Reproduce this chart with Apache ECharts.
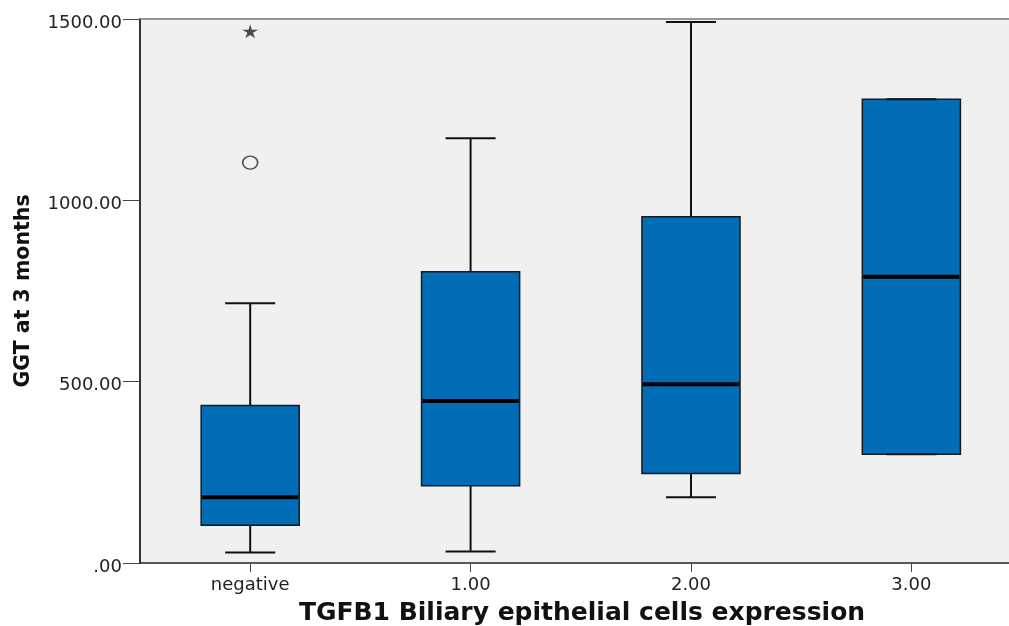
<!DOCTYPE html>
<html><head><meta charset="utf-8">
<script src="https://cdn.jsdelivr.net/npm/echarts@6/dist/echarts.min.js"></script>
<style>html,body{margin:0;padding:0;background:#fff}#c{width:1009px;height:626px}</style>
</head><body><div id="c"></div>
<script>
const categories = ['negative', '1.00', '2.00', '3.00'];
const categoryPositions = [0, 1, 2, 3];
const lowWhisker = [29, 32, 181, 300];
const q1 = [104, 213, 247, 300];
const median = [181, 447, 493, 789];
const q3 = [434, 803, 955, 1279];
const highWhisker = [716, 1171, 1492, 1279];
const mildOutliers = [[0, 1104]];
const extremeOutliers = [[0, 1466]];
const yMin = 0, yMax = 1500, yStep = 500;
const xMin = -0.5, xMax = 3.443;

const boxData = categories.map((c, i) => [i, lowWhisker[i], q1[i], median[i], q3[i], highWhisker[i]]);

function renderBox(params, api) {
  const idx = api.value(0);
  const band = api.size([1, 0])[0];
  const bw = band * 0.445, cw = band * 0.227;
  const pl = api.coord([idx, api.value(1)]);
  const p1 = api.coord([idx, api.value(2)]);
  const pm = api.coord([idx, api.value(3)]);
  const p3 = api.coord([idx, api.value(4)]);
  const ph = api.coord([idx, api.value(5)]);
  const x = pl[0];
  const stroke = { stroke: '#111', lineWidth: 2, fill: null };
  return {
    type: 'group',
    children: [
      { type: 'line', shape: { x1: x, y1: pl[1], x2: x, y2: p1[1] }, style: stroke },
      { type: 'line', shape: { x1: x, y1: p3[1], x2: x, y2: ph[1] }, style: stroke },
      { type: 'rect', shape: { x: x - bw / 2, y: p3[1], width: bw, height: p1[1] - p3[1] },
        style: { fill: '#006db6', stroke: '#1a1a1a', lineWidth: 1.5 } },
      { type: 'line', shape: { x1: x - cw / 2, y1: pl[1], x2: x + cw / 2, y2: pl[1] }, style: stroke },
      { type: 'line', shape: { x1: x - cw / 2, y1: ph[1], x2: x + cw / 2, y2: ph[1] }, style: stroke },
      { type: 'line', shape: { x1: x - bw / 2 + 1, y1: pm[1], x2: x + bw / 2 - 1, y2: pm[1] },
        style: { stroke: '#000', lineWidth: 4 } }
    ]
  };
}

const chart = echarts.init(document.getElementById('c'));
chart.setOption({
  animation: false,
  backgroundColor: '#ffffff',
  grid: { left: 140, top: 19, bottom: 63, right: 0, show: true, containLabel: false,
    outerBoundsMode: 'none',
    backgroundColor: '#f0f0f0', borderWidth: 0 },
  xAxis: [{
    type: 'value', min: xMin, max: xMax,
    name: 'TGFB1 Biliary epithelial cells expression', nameLocation: 'middle', nameGap: 38,
    nameTextStyle: { fontFamily: 'DejaVu Sans', fontWeight: 'bold', fontSize: 25, color: '#111',
      padding: [0, 0, 0, 15] },
    axisLine: { onZero: false, lineStyle: { color: '#222', width: 1.5 } },
    axisTick: { show: true, customValues: categoryPositions, length: 9, lineStyle: { color: '#444' } },
    axisLabel: { fontFamily: 'DejaVu Sans', fontSize: 18, color: '#222', margin: 13,
      customValues: categoryPositions, formatter: v => categories[Math.round(v)] },
    splitLine: { show: false }
  }, {
    type: 'value', position: 'top', min: xMin, max: xMax,
    axisLine: { show: true, onZero: false, lineStyle: { color: '#777', width: 1.5 } },
    axisTick: { show: false }, axisLabel: { show: false }, splitLine: { show: false }
  }],
  yAxis: {
    type: 'value', min: yMin, max: yMax, interval: yStep,
    name: 'GGT at 3 months', nameLocation: 'middle', nameGap: 106,
    nameTextStyle: { fontFamily: 'DejaVu Sans', fontWeight: 'bold', fontSize: 20.5, color: '#111' },
    axisLine: { show: true, onZero: false, lineStyle: { color: '#333', width: 2 } },
    axisTick: { show: true, length: 17, lineStyle: { color: '#444' } },
    axisLabel: { fontFamily: 'DejaVu Sans', fontSize: 18, color: '#222', margin: 18,
      verticalAlign: 'top', padding: [-5, 0, 0, 0],
      formatter: v => v === 0 ? '.00' : v.toFixed(2) },
    splitLine: { show: false }
  },
  series: [
    { type: 'custom', renderItem: renderBox, data: boxData, encode: { x: 0, y: [1, 2, 3, 4, 5] }, z: 3 },
    { type: 'scatter', data: mildOutliers, symbol: 'circle', symbolSize: [15, 13], z: 4,
      itemStyle: { color: 'rgba(0,0,0,0)', borderColor: '#222', borderWidth: 1.5 } },
    { type: 'scatter', data: extremeOutliers, z: 4,
      symbol: 'path://M50,0 L60,36 L98,36 L67,57 L79,94 L50,71 L21,94 L33,57 L2,36 L40,36 Z',
      symbolSize: [16, 14], itemStyle: { color: '#222' } }
  ]
});
</script></body></html>
